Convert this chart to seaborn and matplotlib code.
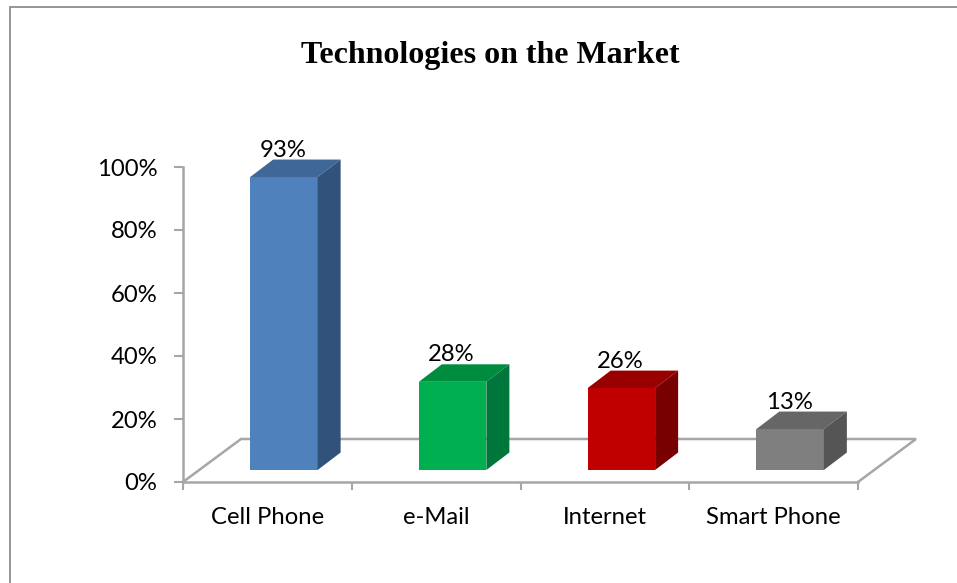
import matplotlib
matplotlib.use("Agg")
import matplotlib.pyplot as plt
from matplotlib.lines import Line2D
from matplotlib.patches import Polygon
import numpy as np
import pandas as pd
import seaborn as sns

categories = ["Cell Phone", "e-Mail", "Internet", "Smart Phone"]
values = [93, 28, 26, 13]
front_colors = ["#4f81bd", "#00b050", "#c00000", "#7f7f7f"]
top_colors = ["#3f6797", "#008c3f", "#990000", "#666666"]
side_colors = ["#31527a", "#00773a", "#780000", "#555555"]
y_ticks = [0, 20, 40, 60, 80, 100]
gray = "#a6a6a6"

sns.set_style("white")
plt.rcParams["font.family"] = ["Lato", "DejaVu Sans"]

W, H = 957, 583
fig = plt.figure(figsize=(W / 100, H / 100), dpi=100)
ax = fig.add_axes([183 / W, 1 - 482 / H, 675 / W, 315 / H])

df = pd.DataFrame({"tech": categories, "share": values})
sns.barplot(data=df, x="tech", y="share", hue="tech", palette=front_colors,
            width=0.4, legend=False, saturation=1, linewidth=0, ax=ax, zorder=3)

ax.set_xlim(-0.5, 3.5)
ax.set_ylim(0, 100)
ax.set_xlabel("")
ax.set_ylabel("")

# pixel sizes to data units
px_x = 4 / 675
px_y = 100 / 315

# bars stand on the floor, a bit in from the front edge
shift_x = 16.5 * px_x
shift_y = 12 * px_y
depth_x = 23 * px_x
depth_y = 17.5 * px_y
for i, p in enumerate(ax.patches):
    p.set_x(p.get_x() + shift_x)
    p.set_y(shift_y)
    p.set_clip_on(False)
    x0 = p.get_x()
    x1 = x0 + p.get_width()
    y0 = shift_y
    y1 = y0 + p.get_height()
    top = [(x0, y1), (x1, y1), (x1 + depth_x, y1 + depth_y), (x0 + depth_x, y1 + depth_y)]
    side = [(x1, y0), (x1 + depth_x, y0 + depth_y), (x1 + depth_x, y1 + depth_y), (x1, y1)]
    ax.add_patch(Polygon(top, fc=top_colors[i], ec="none", zorder=3, clip_on=False))
    ax.add_patch(Polygon(side, fc=side_colors[i], ec="none", zorder=3, clip_on=False))
    ax.text(x0 + p.get_width() / 2 - 1 * px_x, y1 + 27 * px_y, f"{values[i]}%", ha="center", va="center",
            fontsize=17.2, color="black", zorder=4, clip_on=False)

# floor
floor_x = 58 * px_x
floor_y = 43 * px_y
ax.plot([-0.5, -0.5 + floor_x, 3.5 + floor_x, 3.5], [0, floor_y, floor_y, 0],
        color=gray, lw=1.8, zorder=1, clip_on=False, solid_joinstyle="miter")

for s in ["top", "right"]:
    ax.spines[s].set_visible(False)
for s in ["left", "bottom"]:
    ax.spines[s].set_color(gray)
    ax.spines[s].set_linewidth(1.8)

ax.set_yticks(y_ticks)
ax.set_yticklabels([f"{t}%" for t in y_ticks], fontsize=17.2, color="black")
ax.tick_params(axis="y", left=True, length=6.5, width=1.5, color=gray, pad=12)

ax.set_xticks(np.arange(len(categories)))
ax.set_xticklabels(categories, fontsize=17.2, color="black")
ax.tick_params(axis="x", which="major", bottom=False, length=0, pad=18)
ax.set_xticks(np.arange(-0.5, 4), minor=True)
ax.tick_params(axis="x", which="minor", bottom=True, length=5.5, width=1.5, color=gray)

fig.text(490 / W, 1 - 55 / H, "Technologies on the Market", ha="center", va="center",
         family="Liberation Serif", fontweight="bold", fontsize=23, color="black")

# chart frame, only top and left show
fig.add_artist(Line2D([9.5 / W, 9.5 / W, 1], [0, 1 - 6.5 / H, 1 - 6.5 / H], color="#8c8c8c", lw=1.3,
                      solid_joinstyle="miter"))

fig.savefig("out.png", dpi=100)
